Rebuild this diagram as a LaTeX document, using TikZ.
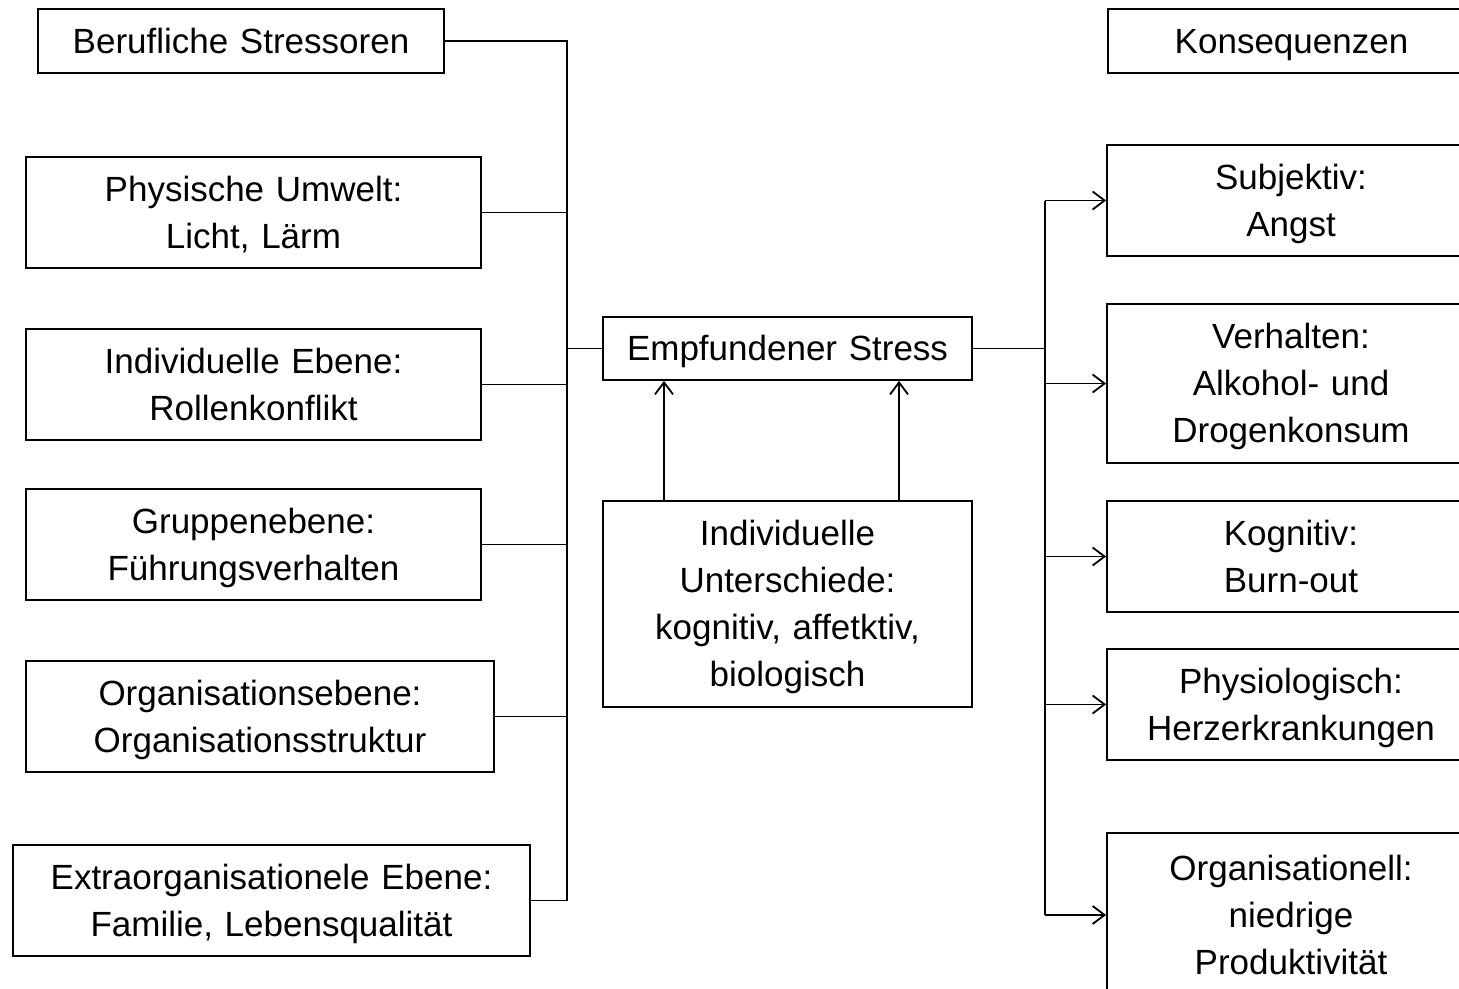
\documentclass[tikz,border=0pt]{standalone}
\usepackage{fontspec}
\setmainfont{Liberation Sans}
\usetikzlibrary{arrows.meta}

\begin{document}
\begin{tikzpicture} [x=1pt, y=-1pt, line width=1.8pt,
        every node/.style={draw, rectangle, inner xsep=0pt, inner ysep=0pt, align=center,
                           font=\fontsize{35}{47}\selectfont,
                           execute at begin node={\rule{0pt}{32pt}},
                           execute at end node={\rule[-8pt]{0pt}{0pt}}}]
            \useasboundingbox (0,0) rectangle (1459,988);

            % left column
            \node (beruf) at (241, 41)    [text width=406pt, minimum height=64pt]  {Berufliche Stressoren};
            \node (phys)  at (253.5, 212.5) [text width=455pt, minimum height=111pt] {Physische Umwelt:\\ Licht, Lärm};
            \node (indiv) at (253.5, 384.5) [text width=455pt, minimum height=111pt] {Individuelle Ebene:\\ Rollenkonflikt};
            \node (grup)  at (253.5, 544.5) [text width=455pt, minimum height=111pt] {Gruppenebene:\\ Führungsverhalten};
            \node (orga)  at (260, 716.5)   [text width=468pt, minimum height=111pt] {Organisationsebene:\\ Organisationsstruktur};
            \node (extra) at (271.5, 900.5) [text width=517pt, minimum height=111pt] {Extraorganisationele Ebene:\\ Familie, Lebensqualität};

            % middle
            \node (stress) at (787.5, 348.5) [text width=369pt, minimum height=63pt]  {Empfundener Stress};
            \node (unter)  at (787.5, 604)   [text width=369pt, minimum height=206pt] {Individuelle\\ Unterschiede:\\ kognitiv, affetktiv,\\ biologisch};

            % right column
            \node (kons)  at (1291.5, 41)  [text width=367pt, minimum height=64pt]  {Konsequenzen};
            \node (subj)  at (1291, 200.5) [text width=368pt, minimum height=111pt] {Subjektiv:\\ Angst};
            \node (verh)  at (1291, 383.5) [text width=368pt, minimum height=159pt] {Verhalten:\\ Alkohol- und\\ Drogenkonsum};
            \node (kogn)  at (1291, 556.5) [text width=368pt, minimum height=111pt] {Kognitiv:\\ Burn-out};
            \node (physl) at (1291, 704.5) [text width=368pt, minimum height=111pt] {Physiologisch:\\ Herzerkrankungen};
            \node (orgl)  at (1291, 915)   [text width=368pt, minimum height=164pt] {Organisationell:\\ niedrige\\ Produktivität};

            \coordinate (lt) at (567, 41);
            \coordinate (lb) at (567, 900.5);
            \coordinate (rt) at (1045, 200.5);
            \coordinate (rb) at (1045, 915);

            \draw (beruf.east) -- (lt) -- (lb) -- (extra.east);
            \draw (phys.east) -- (phys.east -| lt);
            \draw (indiv.east) -- (indiv.east -| lt);
            \draw (grup.east) -- (grup.east -| lt);
            \draw (orga.east) -- (orga.east -| lt);
            \draw (stress.west) -- (stress.west -| lt);
            \draw (stress.east) -- (stress.east -| rt);
            \draw (rt) -- (rb);

            \begin{scope}[->, >={Straight Barb[length=12pt, width=18pt]}]
                \draw (rt) -- (subj.west);
                \draw (verh.west -| rt) -- (verh.west);
                \draw (kogn.west -| rt) -- (kogn.west);
                \draw (physl.west -| rt) -- (physl.west);
                \draw (rb) -- (orgl.west);
                \draw ([xshift=-123.5pt]unter.north) -- ([xshift=-123.5pt]stress.south);
                \draw ([xshift=111.5pt]unter.north) -- ([xshift=111.5pt]stress.south);
            \end{scope}
        \end{tikzpicture}
\end{document}
